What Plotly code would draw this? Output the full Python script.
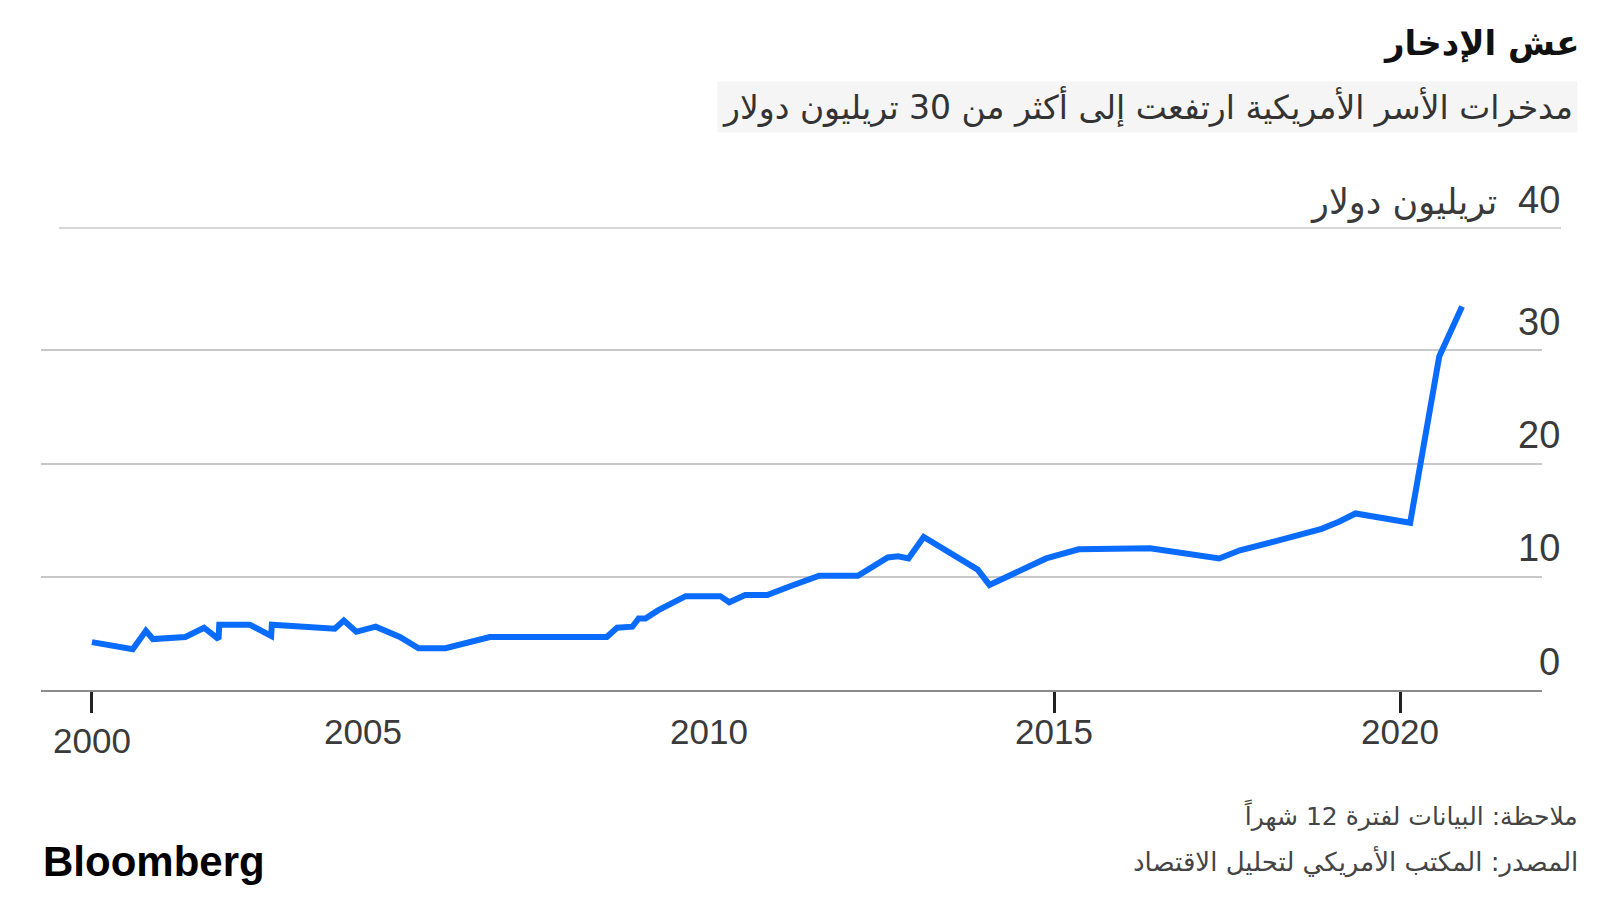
import plotly.graph_objects as go

# ---- data (decimal year, trillion USD) ----
years = [2001.09, 2001.68, 2001.87, 2001.97, 2002.44, 2002.71, 2002.92, 2002.93,
         2003.37, 2003.68, 2003.69, 2004.60, 2004.73, 2004.91, 2005.19, 2005.54,
         2005.81, 2006.20, 2006.84, 2008.53, 2008.68, 2008.90, 2008.99, 2009.09,
         2009.27, 2009.49, 2009.67, 2010.17, 2010.30, 2010.53, 2010.85, 2011.19,
         2011.60, 2012.16, 2012.59, 2012.74, 2012.89, 2013.11, 2013.89, 2014.06,
         2014.36, 2014.88, 2015.35, 2015.76, 2016.38, 2017.38, 2017.68, 2018.20,
         2018.86, 2019.11, 2019.35, 2020.14, 2020.56, 2020.89]
savings = [4.23, 3.60, 5.23, 4.50, 4.68, 5.50, 4.50, 5.77,
           5.77, 4.77, 5.77, 5.41, 6.13, 5.14, 5.59, 4.68,
           3.69, 3.69, 4.68, 4.68, 5.50, 5.59, 6.31, 6.31,
           7.03, 7.66, 8.29, 8.29, 7.75, 8.38, 8.38, 9.19,
           10.09, 10.09, 11.71, 11.80, 11.62, 13.51, 10.63, 9.28,
           10.18, 11.62, 12.43, 12.43, 12.52, 11.62, 12.34, 13.15,
           14.23, 14.86, 15.59, 14.77, 29.46, 33.87]

x_tick_vals = [2001.09, 2005, 2010, 2015, 2020]
x_tick_text = ["2000", "2005", "2010", "2015", "2020"]
x_tick_marks = [2001.09, 2015, 2020]
y_grid_vals = [10, 20, 30]
y_label_vals = [0, 10, 20, 30]
y_label_text = ["0", "10", "20", "30"]
top_label = "40"
unit_label = "تريليون دولار"

title = "عش الإدخار"
subtitle = "مدخرات الأسر الأمريكية ارتفعت إلى أكثر من 30 تريليون دولار"
note = "ملاحظة: البيانات لفترة 12 شهراً"
source = "المصدر: المكتب الأمريكي لتحليل الاقتصاد"

# ---- layout geometry ----
W, H = 1600, 900
L, R = 41, 1542
T, B = 227.5, 690
PW, PH = R - L, B - T


def px(xp):
    return (xp - L) / PW


def py(yp):
    return (B - yp) / PH


AR = "DejaVu Sans, Noto Sans, sans-serif"
LAT = "Liberation Sans, Arial, sans-serif"

fig = go.Figure()
fig.add_trace(go.Scatter(
    x=years, y=savings, mode="lines",
    line=dict(color="#0a6cff", width=6, shape="linear"),
    hoverinfo="skip", showlegend=False,
))

ann = []
# x labels
for v, t in zip(x_tick_vals, x_tick_text):
    ann.append(dict(x=v, xref="x", y=0, yref="paper", text=t, showarrow=False,
                    xanchor="center", yanchor="middle",
                    yshift=-50 if t == "2000" else -41.5,
                    font=dict(family=LAT, size=35, color="#3a3a3a")))
# y labels
for v, t in zip(y_label_vals, y_label_text):
    ann.append(dict(x=px(1562), xref="paper", y=v, yref="y", text=t, showarrow=False,
                    xanchor="right", yanchor="middle", yshift=28.5,
                    font=dict(family=LAT, size=38, color="#3a3a3a")))
ann.append(dict(x=px(1562), xref="paper", y=1, yref="paper", text=top_label, showarrow=False,
                xanchor="right", yanchor="middle", yshift=28.5,
                font=dict(family=LAT, size=38, color="#3a3a3a")))
ann.append(dict(x=px(1499), xref="paper", y=1, yref="paper", text=unit_label, showarrow=False,
                xanchor="right", yanchor="middle", yshift=26,
                font=dict(family=AR, size=35, color="#3a3a3a")))
# title / subtitle
ann.append(dict(x=px(1581), xref="paper", y=py(42), yref="paper", text="<b>" + title + "</b>",
                showarrow=False, xanchor="right", yanchor="middle",
                font=dict(family=AR, size=34, color="#111111")))
ann.append(dict(x=px(1578), xref="paper", y=py(106), yref="paper", text=subtitle,
                showarrow=False, xanchor="right", yanchor="middle",
                bgcolor="#f5f5f5", borderpad=4,
                font=dict(family=AR, size=33, color="#333333")))
# footer
ann.append(dict(x=px(1580), xref="paper", y=py(816), yref="paper", text=note,
                showarrow=False, xanchor="right", yanchor="middle",
                font=dict(family=AR, size=25, color="#444444")))
ann.append(dict(x=px(1580), xref="paper", y=py(862), yref="paper", text=source,
                showarrow=False, xanchor="right", yanchor="middle",
                font=dict(family=AR, size=26, color="#444444")))
ann.append(dict(x=px(41), xref="paper", y=py(862), yref="paper", text="<b>Bloomberg</b>",
                showarrow=False, xanchor="left", yanchor="middle",
                font=dict(family=LAT, size=42, color="#000000")))

shapes = [dict(type="line", xref="paper", yref="paper", x0=px(59), x1=px(1561), y0=1, y1=1,
               line=dict(color="#c8c8c8", width=1.5))]

fig.update_layout(
    width=W, height=H,
    margin=dict(l=L, r=W - R, t=T, b=H - B, pad=0),
    paper_bgcolor="white", plot_bgcolor="white",
    annotations=ann, shapes=shapes, showlegend=False,
    xaxis=dict(range=[2000.354, 2022.045], showgrid=False, zeroline=False,
               showline=True, linecolor="#8a8a8a", linewidth=1.5,
               tickvals=x_tick_marks, ticktext=["" for _ in x_tick_marks],
               ticks="outside", ticklen=21, tickwidth=3, tickcolor="#222222",
               fixedrange=True),
    yaxis=dict(range=[0, 40.8], showgrid=True, gridcolor="#c8c8c8", gridwidth=1.5,
               tickvals=y_grid_vals, showticklabels=False, zeroline=False,
               showline=False, ticks="", fixedrange=True),
)

fig.write_html("out.html")
